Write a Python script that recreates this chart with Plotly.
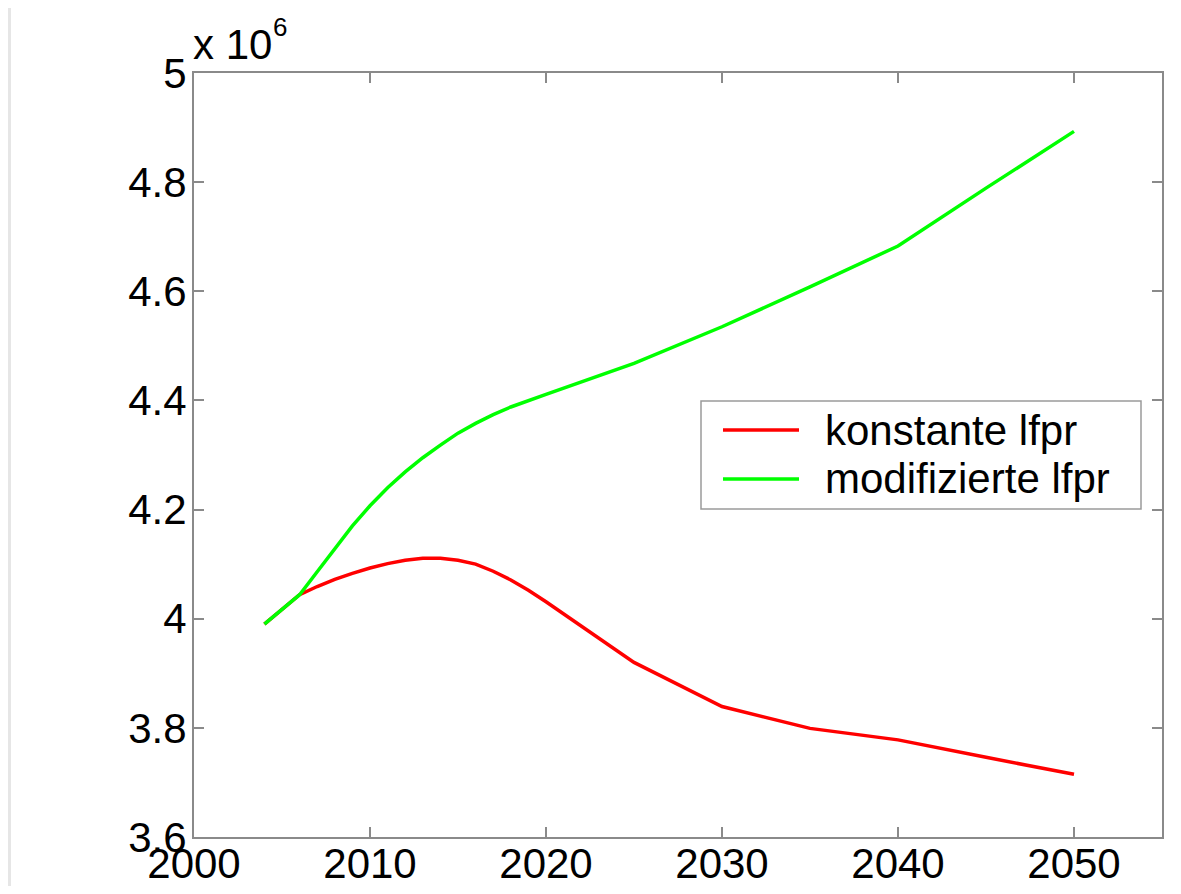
import plotly.graph_objects as go

# ---- data (values in millions) ----
years = [2004, 2005, 2006, 2007, 2008, 2009, 2010, 2011, 2012, 2013, 2014, 2015,
         2016, 2017, 2018, 2019, 2020, 2025, 2030, 2035, 2040, 2045, 2050]
konstante = [3.990, 4.017, 4.044, 4.059, 4.072, 4.083, 4.093, 4.101, 4.107, 4.111,
             4.111, 4.107, 4.100, 4.087, 4.071, 4.052, 4.031, 3.920, 3.839, 3.799,
             3.778, 3.746, 3.715]
modifiziert = [3.990, 4.017, 4.044, 4.086, 4.129, 4.170, 4.207, 4.240, 4.269, 4.295,
               4.318, 4.340, 4.358, 4.374, 4.388, 4.400, 4.411, 4.468, 4.535, 4.608,
               4.683, 4.789, 4.893]
series_names = ["konstante lfpr", "modifizierte lfpr"]
series_colors = ["#ff0000", "#00ff00"]
x_ticks = [2000, 2010, 2020, 2030, 2040, 2050]
y_ticks = [3.6, 3.8, 4.0, 4.2, 4.4, 4.6, 4.8, 5.0]
y_ticklabels = ["3.6", "3.8", "4", "4.2", "4.4", "4.6", "4.8", "5"]

# page has an 8px body margin: figure occupies page pixels 8..1173 x 8..886
OFF = 8
W, H = 1181 - 2 * OFF, 894 - 2 * OFF
ML, MR, MT, MB = 194 - OFF, W - (1162 - OFF), 73 - OFF, H - (837 - OFF)
FONT = "Liberation Sans, Arial, sans-serif"
AXC = "#8a8a8a"

fig = go.Figure()
for name, vals, col in zip(series_names, [konstante, modifiziert], series_colors):
    fig.add_trace(go.Scatter(x=years, y=vals, mode="lines", name=name,
                             line=dict(color=col, width=3.5), showlegend=False))

pw = W - ML - MR
ph = H - MT - MB
def px_x(p):  # page pixel -> paper x
    return (p - OFF - ML) / pw
def px_y(p):  # page pixel -> paper y
    return (H - MB - (p - OFF)) / ph

axis_common = dict(showline=True, linecolor=AXC, linewidth=2, mirror="ticks",
                   ticks="inside", ticklen=10, tickwidth=2, tickcolor=AXC,
                   showgrid=False, zeroline=False, automargin=False)

shapes = [
    # thin grey frame strip at the left edge
    dict(type="rect", xref="paper", yref="paper", x0=px_x(0), x1=px_x(11),
         y0=px_y(0), y1=px_y(900), fillcolor="#e6e6e6", line=dict(width=0),
         layer="below"),
    # legend box
    dict(type="rect", xref="paper", yref="paper", x0=px_x(701), x1=px_x(1141),
         y0=px_y(401), y1=px_y(509), fillcolor="#ffffff",
         line=dict(color="#9a9a9a", width=1.5)),
]
annotations = [
    dict(text="x 10", xref="paper", yref="paper", x=px_x(191), y=px_y(70),
         xanchor="left", yanchor="bottom", showarrow=False,
         font=dict(family=FONT, size=42, color="#000000")),
    dict(text="6", xref="paper", yref="paper", x=px_x(271), y=px_y(44),
         xanchor="left", yanchor="bottom", showarrow=False,
         font=dict(family=FONT, size=26, color="#000000")),
]
row_y = [430, 479]
for name, col, ry in zip(series_names, series_colors, row_y):
    shapes.append(dict(type="line", xref="paper", yref="paper",
                       x0=px_x(723), x1=px_x(799), y0=px_y(ry), y1=px_y(ry),
                       line=dict(color=col, width=3.5)))
    annotations.append(dict(text=name, xref="paper", yref="paper",
                            x=px_x(823), y=px_y(ry), xanchor="left",
                            yanchor="middle", showarrow=False,
                            font=dict(family=FONT, size=42, color="#000000")))

fig.update_layout(
    width=W, height=H,
    margin=dict(l=ML, r=MR, t=MT, b=MB, pad=0, autoexpand=False),
    paper_bgcolor="#ffffff",
    plot_bgcolor="#ffffff",
    xaxis=dict(range=[2000, 2055], tickvals=x_ticks, ticklabelstandoff=-11,
               tickfont=dict(family=FONT, size=42, color="#000000"), **axis_common),
    yaxis=dict(range=[3.6, 5.0], tickvals=y_ticks, ticktext=y_ticklabels,
               ticklabelstandoff=-3,
               tickfont=dict(family=FONT, size=42, color="#000000"), **axis_common),
    shapes=shapes,
    annotations=annotations,
    showlegend=False,
)

fig.write_html("out.html")
